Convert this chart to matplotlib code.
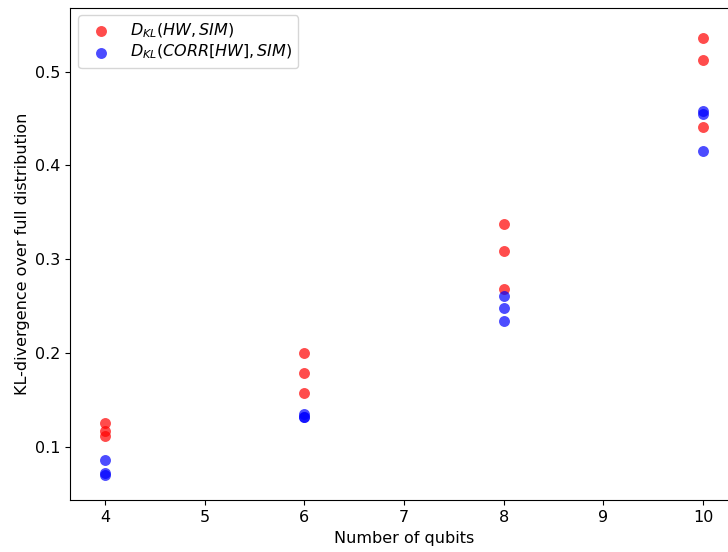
import matplotlib
matplotlib.use("Agg")
import matplotlib.pyplot as plt

plt.rcParams["font.size"] = 11.5

# KL divergence per run, grouped by qubit count
qubits = [4, 4, 4, 6, 6, 6, 8, 8, 8, 10, 10, 10]
kl_hw_sim = [0.125, 0.117, 0.111,
             0.200, 0.179, 0.157,
             0.338, 0.309, 0.268,
             0.536, 0.513, 0.441]
kl_corr_sim = [0.086, 0.072, 0.070,
               0.135, 0.132, 0.132,
               0.261, 0.248, 0.234,
               0.458, 0.455, 0.415]

fig = plt.figure(figsize=(7.28, 5.52), dpi=100)
ax = fig.add_axes([0.0968, 0.0933, 0.9164, 0.8931])

ax.scatter(qubits, kl_hw_sim, s=62, color="r", alpha=0.7, linewidths=0,
           label=r"$D_{KL}(HW, SIM)$")
ax.scatter(qubits, kl_corr_sim, s=62, color="b", alpha=0.7, linewidths=0,
           label=r"$D_{KL}(CORR[HW], SIM)$")

ax.set_xlim(3.655, 10.345)
ax.set_ylim(0.0426, 0.5685)
ax.set_yticks([0.1, 0.2, 0.3, 0.4, 0.5])
ax.set_xlabel("Number of qubits")
ax.set_ylabel("KL-divergence over full distribution")
ax.legend(loc="upper left", labelspacing=0.17)

fig.savefig("out.png", dpi=100)
